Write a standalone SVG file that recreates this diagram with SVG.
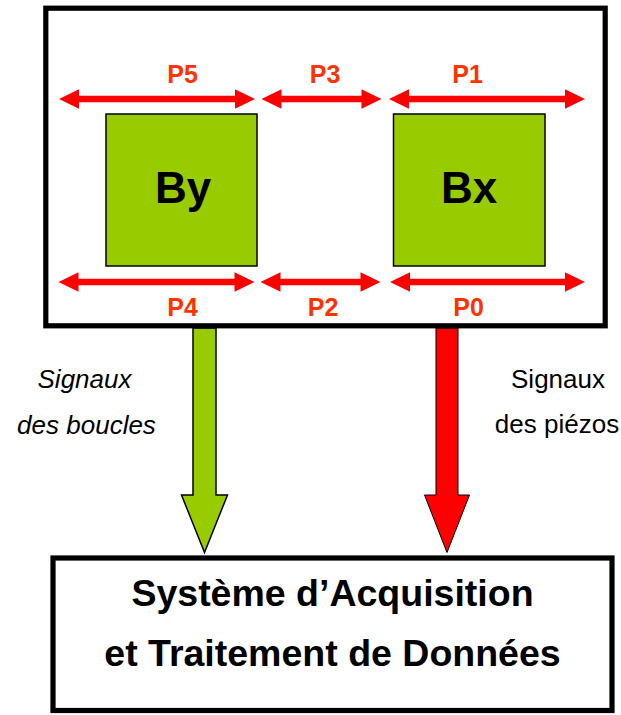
<svg xmlns="http://www.w3.org/2000/svg" width="621" height="715" viewBox="0 0 621 715">
<style>
.frame{fill:#fff;stroke:#000;stroke-width:5.2}
.coil{fill:#99CC00;stroke:#000;stroke-width:1.5}
.dbl{fill:#FF0000;stroke:none}
.plab{font-family:"Liberation Sans",Arial,sans-serif;font-weight:bold;font-size:25px;fill:#FF3300;text-anchor:middle}
.big{font-family:"Liberation Sans",Arial,sans-serif;font-weight:bold;font-size:44px;fill:#000;text-anchor:middle}
.sig{font-family:"Liberation Sans",Arial,sans-serif;font-size:26px;fill:#000;text-anchor:middle}
.sys{font-family:"Liberation Sans",Arial,sans-serif;font-weight:bold;font-size:37.5px;fill:#000;text-anchor:middle}
</style>
<g id="connectors">
<path d="M193,328 L216,328 L216,495 L227.5,495 L204.5,552.5 L181.5,495 L193,495 Z" fill="#99CC00" stroke="#000" stroke-width="1.5"/>
<path d="M436,328 L458,328 L458,495 L469.5,495 L447,552.5 L424.5,495 L436,495 Z" fill="#FF0000" stroke="#000" stroke-width="1"/>
</g>
<g id="capteur">
<rect class="frame" x="45.8" y="8.2" width="559.4" height="317.6"/>
<g id="P5"><path class="dbl" d="M59,99 L79,89.3 L79,95.7 L235,95.7 L235,89.3 L255,99 L235,108.7 L235,102.3 L79,102.3 L79,108.7 Z"/><text class="plab" x="182.5" y="82.5">P5</text></g>
<g id="P3"><path class="dbl" d="M261.5,99 L281.5,89.3 L281.5,95.7 L361.5,95.7 L361.5,89.3 L381.5,99 L361.5,108.7 L361.5,102.3 L281.5,102.3 L281.5,108.7 Z"/><text class="plab" x="325" y="82.5">P3</text></g>
<g id="P1"><path class="dbl" d="M389,99 L409,89.3 L409,95.7 L565,95.7 L565,89.3 L585,99 L565,108.7 L565,102.3 L409,102.3 L409,108.7 Z"/><text class="plab" x="467.5" y="82.5">P1</text></g>
<g id="By"><rect class="coil" x="106" y="114" width="151" height="152"/><text class="big" x="183" y="203">By</text></g>
<g id="Bx"><rect class="coil" x="393.5" y="114" width="151.5" height="152"/><text class="big" x="469" y="203">Bx</text></g>
<g id="P4"><path class="dbl" d="M58.5,282 L78.5,272.3 L78.5,278.7 L234.5,278.7 L234.5,272.3 L254.5,282 L234.5,291.7 L234.5,285.3 L78.5,285.3 L78.5,291.7 Z"/><text class="plab" x="182.5" y="316">P4</text></g>
<g id="P2"><path class="dbl" d="M260.5,282 L280.5,272.3 L280.5,278.7 L360.5,278.7 L360.5,272.3 L380.5,282 L360.5,291.7 L360.5,285.3 L280.5,285.3 L280.5,291.7 Z"/><text class="plab" x="323" y="316">P2</text></g>
<g id="P0"><path class="dbl" d="M390,282 L410,272.3 L410,278.7 L565,278.7 L565,272.3 L585,282 L565,291.7 L565,285.3 L410,285.3 L410,291.7 Z"/><text class="plab" x="468.5" y="316">P0</text></g>
</g>
<g id="label-boucles">
<text class="sig" font-style="italic" x="84.5" y="388">Signaux</text>
<text class="sig" font-style="italic" x="86.5" y="434">des boucles</text>
</g>
<g id="label-piezos">
<text class="sig" x="558" y="388">Signaux</text>
<text class="sig" x="557" y="433">des piézos</text>
</g>
<g id="systeme">
<rect class="frame" x="53" y="558" width="559" height="152.5"/>
<text class="sys" x="332.5" y="606">Système d’Acquisition</text>
<text class="sys" x="332.5" y="666">et Traitement de Données</text>
</g>
</svg>
